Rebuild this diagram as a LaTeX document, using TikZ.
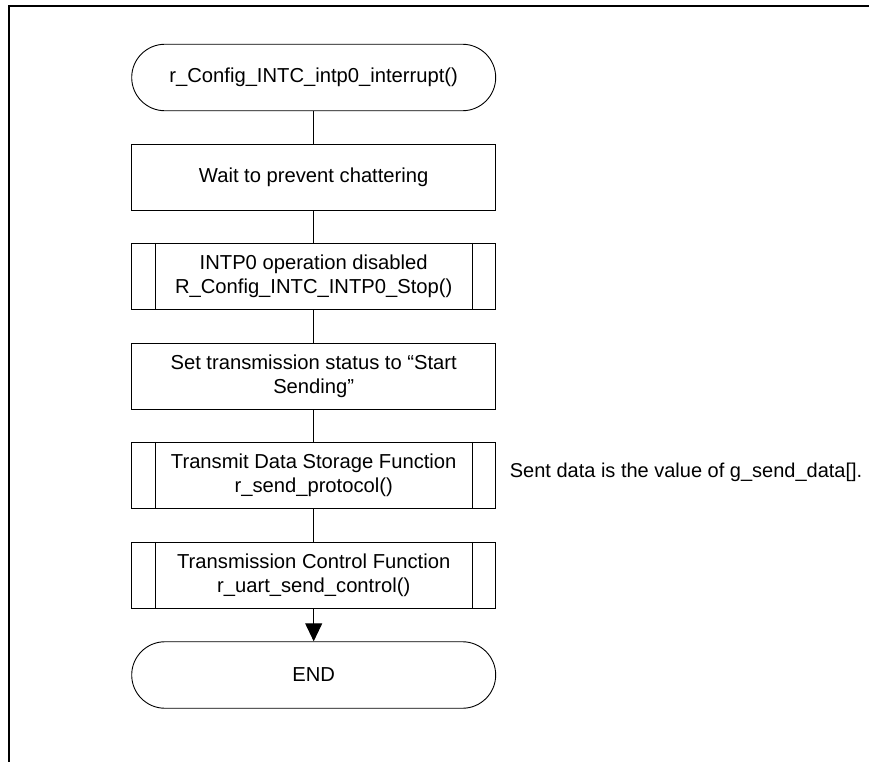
\documentclass[tikz,border=0pt]{standalone}
\usepackage{fontspec}
\setmainfont{Liberation Sans}
\usetikzlibrary{arrows.meta}

\tikzset{
  flow/.style={draw=black, line width=0.9pt, minimum width=364pt, minimum height=66.5pt,
    inner sep=0pt, align=center, font=\fontsize{20.2pt}{24.5pt}\selectfont},
  terminal/.style={flow, rounded corners=33.25pt},
  process/.style={flow},
  subroutine/.style={flow, append after command={
      \pgfextra{\draw[line width=0.9pt]
        ([xshift=24pt]\tikzlastnode.north west) -- ([xshift=24pt]\tikzlastnode.south west)
        ([xshift=-24pt]\tikzlastnode.north east) -- ([xshift=-24pt]\tikzlastnode.south east);}}},
  link/.style={line width=0.9pt},
  note/.style={inner sep=0pt, anchor=west, font=\fontsize{20pt}{24pt}\selectfont},
  frame/.style={line width=2.2pt}
}

\begin{document}
\begin{tikzpicture}[x=1pt, y=-1pt]
  \useasboundingbox (0,0) rectangle (869,762);

  % page frame: top and left edges
  \coordinate (ftl) at (9,6);
  \coordinate (ftr) at (869,6);
  \coordinate (fbl) at (9,762);
  \draw[frame] (ftr) -- (ftl) -- (fbl);

  % flow chart
  \node[terminal]   (start) at (313.7,77.5)  {r\_Config\_INTC\_intp0\_interrupt()};
  \node[process]    (wait)  at (313.7,177.5) {Wait to prevent chattering};
  \node[subroutine] (stop)  at (313.7,276.5) {INTP0 operation disabled\\R\_Config\_INTC\_INTP0\_Stop()};
  \node[process]    (stat)  at (313.7,376.5) {Set transmission status to “Start\\Sending”};
  \node[subroutine] (proto) at (313.7,475.5) {Transmit Data Storage Function\\r\_send\_protocol()};
  \node[subroutine] (ctrl)  at (313.7,575.5) {Transmission Control Function\\r\_uart\_send\_control()};
  \node[terminal]   (end)   at (313.7,675)   {END};

  \draw[link] (start) -- (wait);
  \draw[link] (wait) -- (stop);
  \draw[link] (stop) -- (stat);
  \draw[link] (stat) -- (proto);
  \draw[link] (proto) -- (ctrl);
  \draw[link, -{Triangle[length=18pt, width=17pt]}] (ctrl) -- (end);

  % side remark
  \node[note] (remark) at ([xshift=13.5pt, yshift=3pt]proto.east) {Sent data is the value of g\_send\_data[].};
\end{tikzpicture}
\end{document}
